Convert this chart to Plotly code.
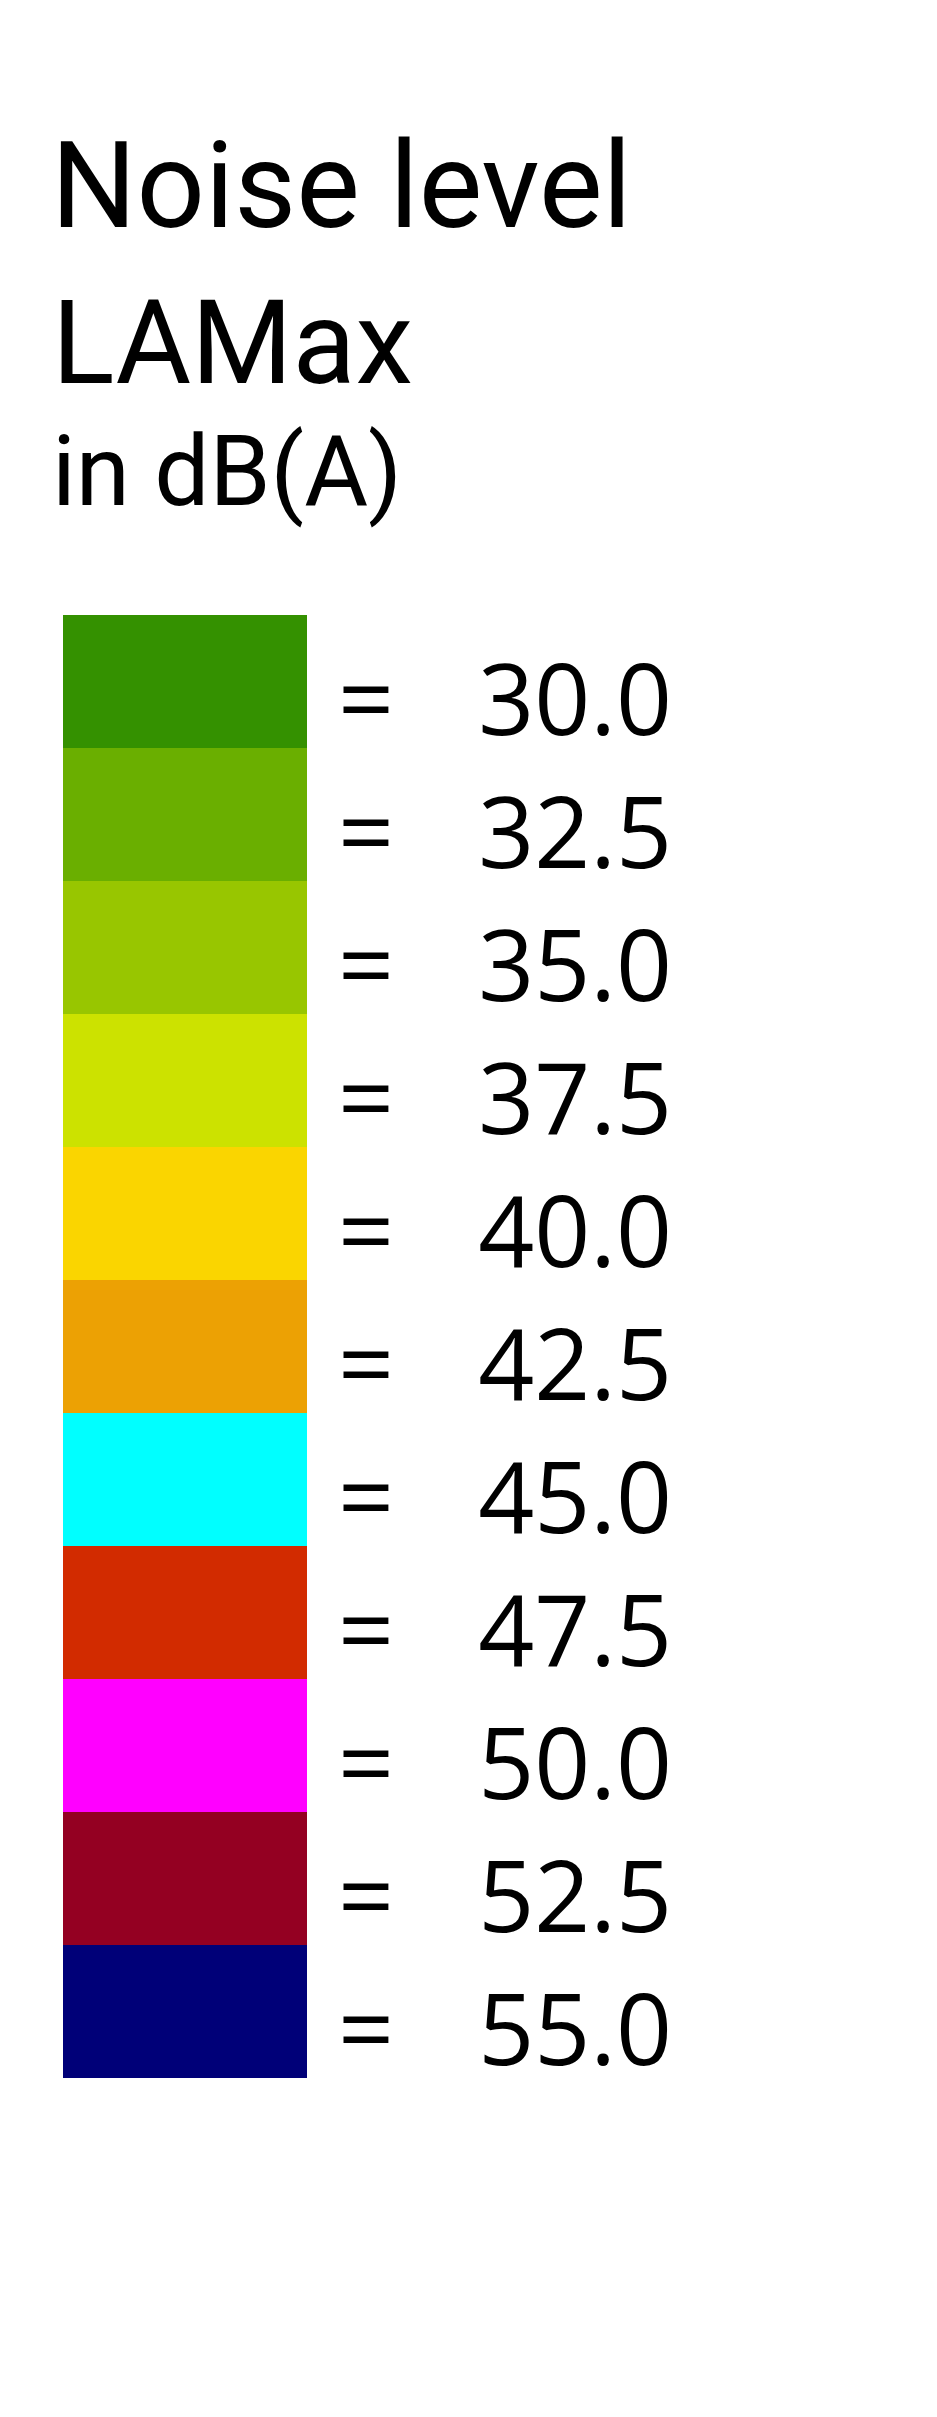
import plotly.graph_objects as go

# Data
levels = [30.0, 32.5, 35.0, 37.5, 40.0, 42.5, 45.0, 47.5, 50.0, 52.5, 55.0]
colors = ["#349100", "#6AAF00", "#98C600", "#CCE200", "#FAD500", "#ECA104",
          "#00FFFF", "#D22B00", "#FF00FF", "#940022", "#000078"]
level_labels = [f"{v:.1f}" for v in levels]
tick_texts = ["=\u2002\u00a0\u200a" + s for s in level_labels]
title_lines = ["Noise level", "LAMax", "in dB(A)"]

W, H = 937, 2417
OFF = 8  # page body margin
box_left, box_right, box_top, box_bottom = 63 - OFF, 307 - OFF, 615 - OFF, 2078 - OFF
plot_h = box_bottom - box_top
plot_w = box_right - box_left

fig = go.Figure()
fig.add_trace(go.Bar(
    x=[1] * len(levels),
    y=level_labels,
    orientation="h",
    marker=dict(color=colors, line=dict(width=0)),
    width=1.0,
    hoverinfo="skip",
))

FONT = "Open Sans"
TFONT = "Roboto"

fig.update_layout(
    width=W, height=H,
    margin=dict(l=box_left, r=W - box_right, t=box_top, b=H - box_bottom, pad=0),
    paper_bgcolor="white", plot_bgcolor="white",
    bargap=0, showlegend=False,
    xaxis=dict(range=[0, 1], visible=False, fixedrange=True),
    yaxis=dict(
        type="category",
        categoryorder="array", categoryarray=level_labels,
        autorange="reversed",
        side="right",
        tickmode="array", tickvals=level_labels, ticktext=tick_texts,
        tickfont=dict(family=FONT, size=98, color="black"),
        ticks="", showgrid=False, zeroline=False, showline=False,
        ticklabelstandoff=30,
        ticklabelshift=-19,
    ),
)

def py(ypix):
    return (box_bottom - ypix) / plot_h

def px(xpix):
    return (xpix - box_left) / plot_w

# first line
fig.add_annotation(
    text=title_lines[0], xref="paper", yref="paper",
    x=px(49 - OFF), y=py(186 - OFF),
    xanchor="left", yanchor="middle",
    showarrow=False,
    font=dict(family=TFONT, size=120, color="black"),
)
# second + third line in one text block
fig.add_annotation(
    text=f"<span style='font-size:116px'>{title_lines[1]}</span><br>"
         f"<span style='font-size:98px'>{title_lines[2]}</span>",
    xref="paper", yref="paper",
    x=px(50 - OFF), y=py(402 - OFF),
    xanchor="left", yanchor="middle", align="left",
    showarrow=False,
    font=dict(family=TFONT, size=94, color="black"),
)

fig.write_html("out.html")
